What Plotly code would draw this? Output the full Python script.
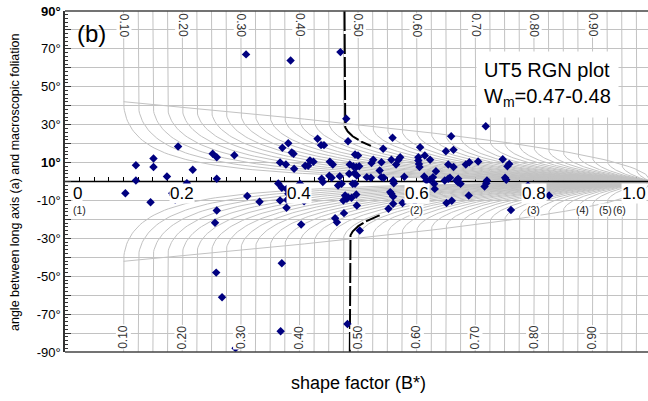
import numpy as np
import plotly.graph_objects as go

# ---------------- data ----------------
B_STAR = [
    0.309, 0.385, 0.470, 0.480, 0.718,
    0.193, 0.252, 0.259, 0.289, 0.371, 0.381, 0.387, 0.390, 0.431, 0.437, 0.442,
    0.483, 0.559, 0.659, 0.543, 0.606, 0.650, 0.663, 0.495, 0.500, 0.614,
    0.121, 0.151, 0.151, 0.218, 0.367, 0.377, 0.391, 0.410, 0.415, 0.418, 0.424,
    0.452, 0.457, 0.526, 0.523, 0.540, 0.557, 0.572, 0.569, 0.565, 0.603, 0.603,
    0.604, 0.605, 0.623, 0.654, 0.663, 0.633, 0.684, 0.690, 0.705, 0.747, 0.755,
    0.758, 0.486, 0.492, 0.497, 0.502, 0.537,
    0.174, 0.121, 0.208, 0.259, 0.438, 0.451, 0.455, 0.469, 0.485, 0.494, 0.498,
    0.515, 0.522, 0.540, 0.544, 0.560, 0.579, 0.613, 0.617, 0.623, 0.628, 0.648,
    0.654, 0.657, 0.668, 0.671, 0.720, 0.751, 0.753,
    0.401, 0.364, 0.370, 0.378, 0.440, 0.466, 0.472, 0.491, 0.495, 0.561, 0.630,
    0.631, 0.671, 0.675, 0.716, 0.719, 0.790,
    0.103, 0.146, 0.183, 0.185, 0.188, 0.311, 0.332, 0.381, 0.383, 0.379, 0.367,
    0.408, 0.378, 0.478, 0.483, 0.481, 0.475, 0.489, 0.497, 0.498, 0.476, 0.555,
    0.557, 0.560, 0.560, 0.552, 0.576, 0.597, 0.651, 0.660, 0.689, 0.761, 0.826,
    0.259,
    0.256, 0.403, 0.461, 0.464, 0.503, 0.370, 0.258, 0.268, 0.368, 0.482, 0.291,
]
THETA = [
    67.1, 63.9, 68.3, 33.1, 29.2,
    18.5, 14.6, 12.8, 13.9, 17.8, 20.2, 15.3, 14.6, 22.6, 19.2, 19.2,
    21.3, 23.1, 23.9, 17.3, 18.1, 16.0, 16.7, 14.3, 13.7, 13.7,
    8.6, 12.1, 7.6, 6.2, 10.0, 9.0, 6.7, 8.3, 8.3, 11.1, 10.4,
    10.4, 9.0, 11.5, 9.7, 10.2, 11.5, 12.8, 11.5, 9.0, 12.8, 11.1,
    9.3, 7.6, 11.5, 9.0, 7.6, 5.4, 9.0, 10.2, 10.6, 11.8, 8.1,
    9.3, 9.0, 8.1, 7.6, 8.1, 5.8,
    2.6, 0.5, -0.9, 1.4, 1.4, 3.0, 2.0, 2.8, 4.1, 4.4, 3.2,
    2.3, 2.0, 2.3, 2.0, 0.5, 2.5, 2.6, 0.5, 0.9, 2.3, 0.5,
    1.4, 2.0, 0.5, 1.4, 0.5, 2.0, 0.9,
    -1.2, -1.1, -3.3, -3.9, -0.3, -2.1, -1.2, -1.2, -1.2, -0.9, -1.2,
    -3.9, -0.4, -1.2, -2.6, -0.9, -2.1,
    -6.2, -10.9, -6.2, -7.4, -9.7, -7.7, -10.7, -6.5, -8.6, -9.7, -10.0,
    -10.4, -13.9, -7.4, -8.3, -9.1, -10.0, -8.6, -6.9, -12.7, -16.7, -5.6,
    -6.5, -7.9, -11.8, -14.4, -11.4, -12.7, -11.4, -10.2, -7.4, -15.0, -7.4,
    -15.3,
    -21.8, -22.7, -19.4, -21.5, -25.9, -43.1, -48.1, -61.1, -79.1, -75.2, -88.0,
]

# RGN net: critical curves for mean kinematic vorticity Wm
WM_LEVELS = [round(0.100 + 0.025 * i, 3) for i in range(36)]   # 0.100 ... 0.975
WM_LABELS = [0.10, 0.20, 0.30, 0.40, 0.50, 0.60, 0.70, 0.80, 0.90]
WM_SAMPLE_UPPER = 0.477   # dashed curve, upper half (Wm ~0.47)
WM_SAMPLE_LOWER = 0.486   # dashed curve, lower half (Wm ~0.48)
X_TICKS = [0.0, 0.2, 0.4, 0.6, 0.8, 1.0]
X_TICK_TEXT = ["0", "0.2", "0.4", "0.6", "0.8", "1.0"]
ASPECT_RATIOS = [1, 2, 3, 4, 5, 6]
Y_TICKS = list(range(-90, 91, 10))
Y_TICK_TEXT = [" " if v % 20 == 0 else ("<b>%d°</b>" % v if v in (90, 10) else "%d°" % v) for v in Y_TICKS]

GREY = "#c2c2c2"
FONT = "Liberation Sans, Arial, sans-serif"


def wm_curve(w, b_end=1.0, sign=1):
    """critical curve for Wm=w: vertical part (|theta|>theta0) then bend to (1,0)."""
    th0 = 0.5 * np.degrees(np.arccos(w))
    b = w + (b_end - w) * (np.linspace(0, 1, 80) ** 2)
    th = th0 - 0.5 * np.degrees(np.arccos(np.clip(w / b, -1, 1)))
    xs = [w] + list(b)
    ys = [90.0] + list(th)
    return xs, [sign * v for v in ys]


fig = go.Figure()

# grey net
nx, ny = [], []
for w in WM_LEVELS:
    for s in (1, -1):
        xs, ys = wm_curve(w, 1.0, s)
        nx += xs + [None]
        ny += ys + [None]
benv = np.linspace(0.1, 1.0, 100)
tenv = 0.5 * np.degrees(np.arccos(benv))
for s in (1, -1):
    nx += list(benv) + [None]
    ny += list(s * tenv) + [None]
fig.add_trace(go.Scatter(x=nx, y=ny, mode="lines", line=dict(color=GREY, width=1),
                         hoverinfo="skip", showlegend=False))

# sample Wm curve (dashed)
for w, s, bend in ((WM_SAMPLE_UPPER, 1, 0.522), (WM_SAMPLE_LOWER, -1, 0.537)):
    xs, ys = wm_curve(w, bend, s)
    fig.add_trace(go.Scatter(x=xs, y=ys, mode="lines",
                             line=dict(color="black", width=2, dash="20px,3px"),
                             hoverinfo="skip", showlegend=False))

# black zero axis line
fig.add_trace(go.Scatter(x=[0, 1.05], y=[0, 0], mode="lines",
                         line=dict(color="black", width=1.5),
                         hoverinfo="skip", showlegend=False))

# data points
fig.add_trace(go.Scatter(x=B_STAR, y=THETA, mode="markers",
                         marker=dict(symbol="diamond", size=6.5, color="#000080"),
                         showlegend=False))

ann = []
for v, t in zip(X_TICKS, X_TICK_TEXT):
    xa = "center"
    xv = v
    if v == 0.0:
        xa, xv = "left", 0.012
    elif v == 1.0:
        xa, xv = "right", 0.993
    ann.append(dict(x=xv, y=-6.5, text=t, showarrow=False, xanchor=xa, yanchor="middle",
                    font=dict(size=17, color="black", family=FONT),
                    bgcolor="white", borderpad=0))
for r in ASPECT_RATIOS:
    b = (r * r - 1) / (r * r + 1)
    ann.append(dict(x=b if r > 1 else 0.012, y=-14.8, text="(%d)" % r, showarrow=False,
                    xanchor="center" if r > 1 else "left", yanchor="middle",
                    font=dict(size=10.5, color="#222", family=FONT),
                    bgcolor="white", borderpad=0))
for w in WM_LABELS:
    ann.append(dict(x=w, y=82.4, text="%.2f" % w, showarrow=False, textangle=90,
                    font=dict(size=12, color="#333", family=FONT),
                    bgcolor="white", borderpad=0))
    ann.append(dict(x=w, y=-82.2, text="%.2f" % w, showarrow=False, textangle=-90,
                    font=dict(size=12, color="#333", family=FONT),
                    bgcolor="white", borderpad=0))
ann.append(dict(x=0.046, y=78.2, text="(b)", showarrow=False,
                font=dict(size=24, color="black", family=FONT)))
ann.append(dict(x=0.823, y=51.2, text="UT5 RGN plot<br>W<sub>m</sub>=0.47-0.48",
                showarrow=False, align="left", bgcolor="white", borderpad=7,
                font=dict(size=20, color="black", family=FONT)))
ann.append(dict(xref="paper", yref="paper", x=0.5026, y=-0.091, text="shape factor (B*)",
                showarrow=False, yanchor="middle",
                font=dict(size=18, color="black", family=FONT)))
ann.append(dict(xref="paper", yref="paper", x=-0.0858, y=0.4985,
                text="angle between long axis (a) and macroscopic foliation",
                showarrow=False, textangle=-90, xanchor="center", yanchor="middle",
                font=dict(size=12.5, color="black", family=FONT)))

fig.update_layout(
    width=648, height=401,
    margin=dict(l=65, r=0, t=11, b=49, autoexpand=False),
    paper_bgcolor="white", plot_bgcolor="white",
    annotations=ann,
    shapes=[
        dict(type="line", xref="paper", yref="paper", x0=0, x1=1, y0=1, y1=1,
             line=dict(color="#444", width=1.5)),
        dict(type="line", xref="paper", yref="paper", x0=0, x1=1, y0=0, y1=0,
             line=dict(color="#444", width=1.5)),
    ],
    xaxis=dict(range=[0, 583 / 586], anchor="free", position=0.5, side="bottom",
               showgrid=False, zeroline=False, showline=False, automargin=False,
               tickmode="linear", tick0=0, dtick=0.025, ticks="inside", ticklen=5,
               tickcolor="black", tickwidth=1, showticklabels=False,
               layer="below traces", fixedrange=True),
    yaxis=dict(range=[-90, 90], tickmode="array", tickvals=Y_TICKS, ticktext=Y_TICK_TEXT,
               ticks="inside", ticklen=6, tickcolor="#333", showgrid=True,
               gridcolor=GREY, gridwidth=1, zeroline=False, showline=True,
               linecolor="#333", linewidth=1.5, automargin=False,
               tickfont=dict(size=13, color="black", family=FONT),
               minor=dict(tickmode="linear", tick0=0, dtick=2, ticks="inside",
                          ticklen=3, tickcolor="#333", showgrid=False),
               fixedrange=True),
)

# remove the browser's default 8px page margin so the figure fills the window
fig.write_html("out.html", config={"displayModeBar": False},
               post_script="document.body.style.margin='0';document.body.style.padding='0';")
